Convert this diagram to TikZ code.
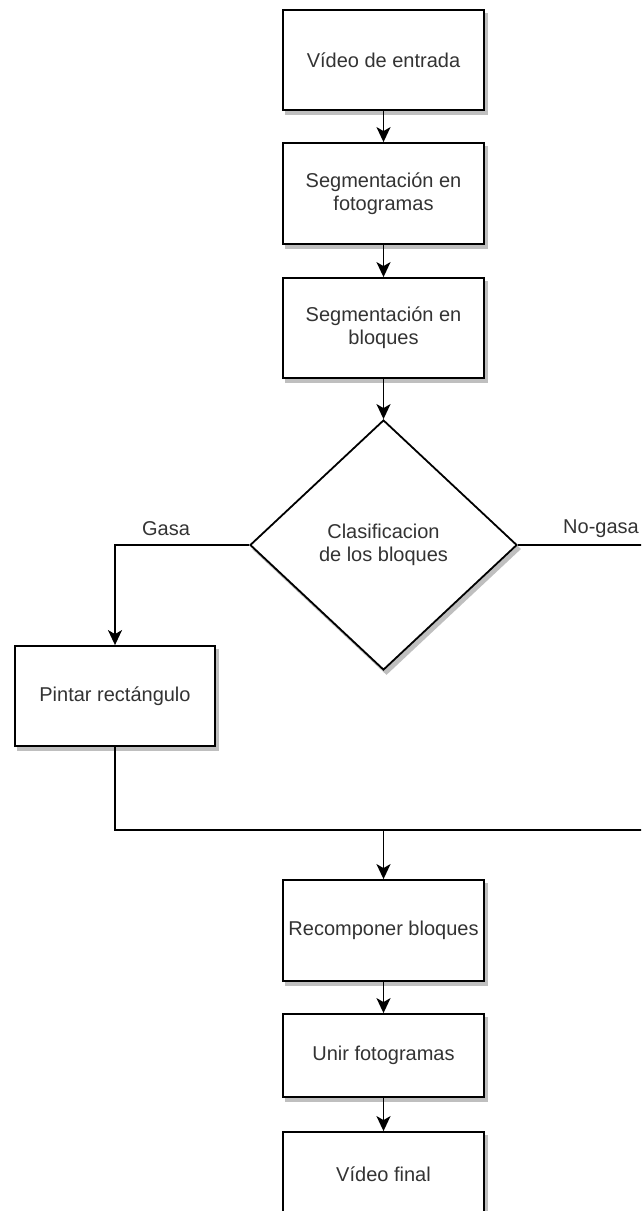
\documentclass[tikz,border=0pt]{standalone}
\usepackage{fontspec}
\setmainfont{Liberation Sans}
\usetikzlibrary{shapes.geometric,arrows.meta}
\definecolor{txt}{HTML}{333333}
\definecolor{shd}{HTML}{BFBFBF}
\begin{document}
\begin{tikzpicture}[x=1pt,y=-1pt,
  lbl/.style={text=txt, font=\fontsize{20}{23}\selectfont, inner sep=0pt},
  shad/.style={preaction={draw=shd, fill=shd, line width=1.8pt, transform canvas={shift={(3pt,-4pt)}}}},
  box/.style={draw=black, line width=1.8pt, fill=white, minimum width=201pt, minimum height=100pt,
    inner sep=0pt, align=center, lbl, shad},
  dec/.style={diamond, draw=black, line width=1.8pt, fill=white, minimum width=267pt, minimum height=250pt,
    inner sep=0pt, align=center, lbl, shad},
  conn/.style={draw=black, line width=1.8pt},
  arr/.style={conn, -{Stealth[length=15pt,width=14pt,inset=4pt]}}
]
\useasboundingbox (0,0) rectangle (641,1211);
\clip (0,0) rectangle (641,1211);

\node[box] (n1) at (383.5,60) {Vídeo de entrada};
\node[box, minimum height=101pt] (n2) at (383.5,193.5) {Segmentación en\\fotogramas};
\node[box] (n3) at (383.5,328) {Segmentación en\\bloques};
\node[dec] (dia) at (383.5,545) {Clasificacion\\de los bloques};
\node[box, minimum width=200pt] (pint) at (115,696) {Pintar rectángulo};
\node[box, minimum height=101pt] (rec) at (383.5,930.5) {Recomponer bloques};
\node[box, minimum height=83pt] (unir) at (383.5,1055.5) {Unir fotogramas};
\node[box, minimum height=84pt] (fin) at (383.5,1174) {Vídeo final};

\node[lbl] (gasa) at (166,529) {Gasa};
\node[lbl] (nogasa) at (601,529) {No-gasa};

\coordinate (merge) at (383.5,830);
\coordinate (rtop) at (652,545);
\coordinate (rbot) at (652,830);

\draw[arr] (n1) -- (n2);
\draw[arr] (n2) -- (n3);
\draw[arr] (n3) -- (dia.north);
\draw[arr] (dia.west) -| (pint.north);
\draw[conn] (pint.south) |- (merge);
\draw[conn] (dia.east) -- (rtop) -- (rbot) -- (merge);
\draw[arr] (merge) -- (rec.north);
\draw[arr] (rec) -- (unir);
\draw[arr] (unir) -- (fin);
\end{tikzpicture}
\end{document}
